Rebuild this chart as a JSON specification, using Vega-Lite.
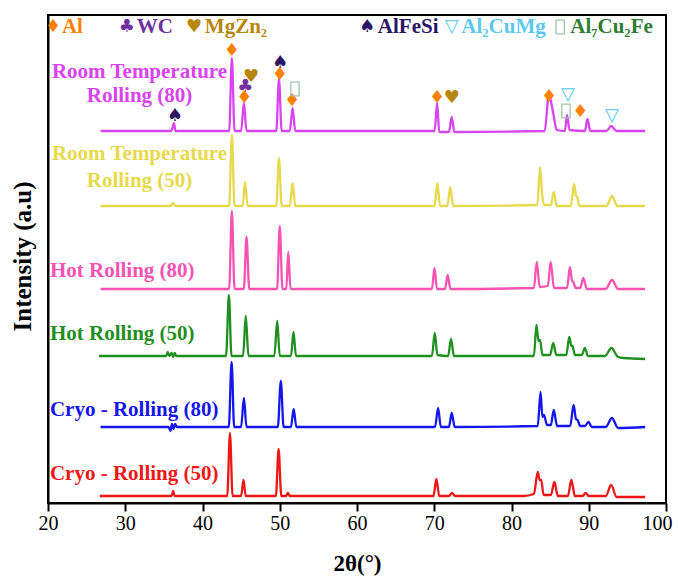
{
  "$schema": "https://vega.github.io/schema/vega-lite/v6.json",
  "width": 618,
  "height": 488,
  "autosize": {"type": "none"},
  "padding": {"left": 48, "top": 15, "right": 12, "bottom": 78},
  "background": "white",
  "config": {"view": {"stroke": "black", "strokeWidth": 2}},
  "datasets": {
    "xrd": [
      {"s":"CR50","x":26.7,"y":7},{"s":"CR50","x":35.8,"y":7},{"s":"CR50","x":36.0,"y":7},{"s":"CR50","x":36.2,"y":12},{"s":"CR50","x":36.4,"y":7},{"s":"CR50","x":43.2,"y":7},{"s":"CR50","x":43.55,"y":70},{"s":"CR50","x":43.9,"y":7},{"s":"CR50","x":45.0,"y":7},{"s":"CR50","x":45.3,"y":23},{"s":"CR50","x":45.6,"y":7},{"s":"CR50","x":49.5,"y":7},{"s":"CR50","x":49.85,"y":54},{"s":"CR50","x":50.2,"y":7},{"s":"CR50","x":50.8,"y":7},{"s":"CR50","x":51.05,"y":10},{"s":"CR50","x":51.3,"y":7},{"s":"CR50","x":69.9,"y":7},{"s":"CR50","x":70.28,"y":24},{"s":"CR50","x":70.65,"y":7},{"s":"CR50","x":71.9,"y":7},{"s":"CR50","x":72.3,"y":10},{"s":"CR50","x":72.7,"y":7},{"s":"CR50","x":81.5,"y":7},{"s":"CR50","x":82.9,"y":9},{"s":"CR50","x":83.4,"y":31},{"s":"CR50","x":83.65,"y":23},{"s":"CR50","x":83.85,"y":23},{"s":"CR50","x":84.15,"y":8},{"s":"CR50","x":85.1,"y":8},{"s":"CR50","x":85.55,"y":21},{"s":"CR50","x":86.0,"y":7},{"s":"CR50","x":87.3,"y":7},{"s":"CR50","x":87.75,"y":23},{"s":"CR50","x":88.2,"y":7},{"s":"CR50","x":89.2,"y":7},{"s":"CR50","x":89.6,"y":10},{"s":"CR50","x":90.0,"y":7},{"s":"CR50","x":92.2,"y":7},{"s":"CR50","x":92.9,"y":18},{"s":"CR50","x":93.6,"y":6},{"s":"CR50","x":97.3,"y":6},

      {"s":"CR80","x":26.8,"y":76},{"s":"CR80","x":35.6,"y":76},{"s":"CR80","x":35.85,"y":72},{"s":"CR80","x":36.05,"y":79},{"s":"CR80","x":36.25,"y":74},{"s":"CR80","x":36.45,"y":79},{"s":"CR80","x":36.7,"y":76},{"s":"CR80","x":43.4,"y":76},{"s":"CR80","x":43.77,"y":141},{"s":"CR80","x":44.1,"y":76},{"s":"CR80","x":45.0,"y":76},{"s":"CR80","x":45.36,"y":105},{"s":"CR80","x":45.7,"y":76},{"s":"CR80","x":49.75,"y":76},{"s":"CR80","x":50.14,"y":122},{"s":"CR80","x":50.5,"y":76},{"s":"CR80","x":51.45,"y":76},{"s":"CR80","x":51.8,"y":94},{"s":"CR80","x":52.15,"y":76},{"s":"CR80","x":70.1,"y":76},{"s":"CR80","x":70.5,"y":95},{"s":"CR80","x":70.85,"y":76},{"s":"CR80","x":71.9,"y":76},{"s":"CR80","x":72.26,"y":90},{"s":"CR80","x":72.65,"y":76},{"s":"CR80","x":83.4,"y":77},{"s":"CR80","x":83.76,"y":111},{"s":"CR80","x":84.0,"y":86},{"s":"CR80","x":84.2,"y":88},{"s":"CR80","x":84.6,"y":78},{"s":"CR80","x":85.1,"y":78},{"s":"CR80","x":85.47,"y":93},{"s":"CR80","x":85.9,"y":77},{"s":"CR80","x":87.6,"y":77},{"s":"CR80","x":88.04,"y":98},{"s":"CR80","x":88.35,"y":84},{"s":"CR80","x":88.55,"y":83},{"s":"CR80","x":88.9,"y":77},{"s":"CR80","x":89.5,"y":77},{"s":"CR80","x":89.96,"y":81},{"s":"CR80","x":90.4,"y":76},{"s":"CR80","x":92.2,"y":76},{"s":"CR80","x":93.0,"y":85},{"s":"CR80","x":93.8,"y":75},{"s":"CR80","x":97.3,"y":76},

      {"s":"HR50","x":26.6,"y":147},{"s":"HR50","x":35.3,"y":147},{"s":"HR50","x":35.5,"y":151},{"s":"HR50","x":35.7,"y":147},{"s":"HR50","x":36.0,"y":150},{"s":"HR50","x":36.2,"y":146},{"s":"HR50","x":36.4,"y":150},{"s":"HR50","x":36.6,"y":147},{"s":"HR50","x":43.05,"y":147},{"s":"HR50","x":43.42,"y":208},{"s":"HR50","x":43.75,"y":147},{"s":"HR50","x":45.25,"y":147},{"s":"HR50","x":45.6,"y":187},{"s":"HR50","x":45.95,"y":147},{"s":"HR50","x":49.3,"y":147},{"s":"HR50","x":49.67,"y":182},{"s":"HR50","x":50.0,"y":147},{"s":"HR50","x":51.45,"y":147},{"s":"HR50","x":51.78,"y":171},{"s":"HR50","x":52.1,"y":147},{"s":"HR50","x":69.7,"y":147},{"s":"HR50","x":70.07,"y":170},{"s":"HR50","x":70.4,"y":148},{"s":"HR50","x":71.8,"y":147},{"s":"HR50","x":72.17,"y":164},{"s":"HR50","x":72.55,"y":147},{"s":"HR50","x":82.9,"y":147},{"s":"HR50","x":83.23,"y":178},{"s":"HR50","x":83.5,"y":162},{"s":"HR50","x":83.7,"y":163},{"s":"HR50","x":84.0,"y":148},{"s":"HR50","x":85.0,"y":148},{"s":"HR50","x":85.4,"y":160},{"s":"HR50","x":85.8,"y":148},{"s":"HR50","x":87.1,"y":148},{"s":"HR50","x":87.47,"y":166},{"s":"HR50","x":87.75,"y":157},{"s":"HR50","x":87.9,"y":157},{"s":"HR50","x":88.2,"y":148},{"s":"HR50","x":89.1,"y":148},{"s":"HR50","x":89.5,"y":155},{"s":"HR50","x":89.9,"y":147},{"s":"HR50","x":92.1,"y":147},{"s":"HR50","x":92.93,"y":155},{"s":"HR50","x":93.8,"y":146},{"s":"HR50","x":94.5,"y":145},{"s":"HR50","x":97.3,"y":144},

      {"s":"HR80","x":26.8,"y":214},{"s":"HR80","x":43.45,"y":214},{"s":"HR80","x":43.8,"y":292},{"s":"HR80","x":44.15,"y":214},{"s":"HR80","x":45.35,"y":214},{"s":"HR80","x":45.7,"y":266},{"s":"HR80","x":46.05,"y":214},{"s":"HR80","x":49.65,"y":214},{"s":"HR80","x":50.0,"y":277},{"s":"HR80","x":50.35,"y":214},{"s":"HR80","x":50.85,"y":214},{"s":"HR80","x":51.1,"y":251},{"s":"HR80","x":51.4,"y":214},{"s":"HR80","x":69.7,"y":214},{"s":"HR80","x":70.03,"y":235},{"s":"HR80","x":70.35,"y":214},{"s":"HR80","x":71.4,"y":214},{"s":"HR80","x":71.73,"y":228},{"s":"HR80","x":72.1,"y":214},{"s":"HR80","x":82.9,"y":215},{"s":"HR80","x":83.27,"y":241},{"s":"HR80","x":83.65,"y":216},{"s":"HR80","x":84.7,"y":217},{"s":"HR80","x":85.07,"y":241},{"s":"HR80","x":85.5,"y":215},{"s":"HR80","x":87.2,"y":215},{"s":"HR80","x":87.56,"y":236},{"s":"HR80","x":87.85,"y":222},{"s":"HR80","x":88.0,"y":221},{"s":"HR80","x":88.3,"y":215},{"s":"HR80","x":88.9,"y":215},{"s":"HR80","x":89.3,"y":225},{"s":"HR80","x":89.75,"y":214},{"s":"HR80","x":92.2,"y":214},{"s":"HR80","x":93.0,"y":223},{"s":"HR80","x":93.8,"y":214},{"s":"HR80","x":97.3,"y":214},

      {"s":"RT50","x":26.8,"y":297},{"s":"RT50","x":35.9,"y":297},{"s":"RT50","x":36.2,"y":300},{"s":"RT50","x":36.5,"y":297},{"s":"RT50","x":43.45,"y":297},{"s":"RT50","x":43.8,"y":368},{"s":"RT50","x":44.15,"y":297},{"s":"RT50","x":45.2,"y":297},{"s":"RT50","x":45.5,"y":321},{"s":"RT50","x":45.85,"y":297},{"s":"RT50","x":49.55,"y":297},{"s":"RT50","x":49.9,"y":345},{"s":"RT50","x":50.25,"y":297},{"s":"RT50","x":51.3,"y":297},{"s":"RT50","x":51.66,"y":320},{"s":"RT50","x":52.0,"y":297},{"s":"RT50","x":70.05,"y":297},{"s":"RT50","x":70.4,"y":320},{"s":"RT50","x":70.75,"y":297},{"s":"RT50","x":71.7,"y":297},{"s":"RT50","x":72.07,"y":316},{"s":"RT50","x":72.45,"y":297},{"s":"RT50","x":83.35,"y":298},{"s":"RT50","x":83.7,"y":336},{"s":"RT50","x":83.95,"y":310},{"s":"RT50","x":84.2,"y":298},{"s":"RT50","x":85.1,"y":298},{"s":"RT50","x":85.47,"y":311},{"s":"RT50","x":85.85,"y":297},{"s":"RT50","x":87.7,"y":297},{"s":"RT50","x":88.1,"y":319},{"s":"RT50","x":88.35,"y":307},{"s":"RT50","x":88.5,"y":306},{"s":"RT50","x":88.8,"y":297},{"s":"RT50","x":92.3,"y":297},{"s":"RT50","x":93.0,"y":307},{"s":"RT50","x":93.7,"y":297},{"s":"RT50","x":97.3,"y":297},

      {"s":"RT80","x":26.8,"y":372},{"s":"RT80","x":35.9,"y":372},{"s":"RT80","x":36.15,"y":376},{"s":"RT80","x":36.3,"y":380},{"s":"RT80","x":36.5,"y":372},{"s":"RT80","x":43.45,"y":372},{"s":"RT80","x":43.8,"y":445},{"s":"RT80","x":44.15,"y":372},{"s":"RT80","x":45.0,"y":372},{"s":"RT80","x":45.36,"y":400},{"s":"RT80","x":45.7,"y":372},{"s":"RT80","x":49.55,"y":372},{"s":"RT80","x":49.9,"y":424},{"s":"RT80","x":50.25,"y":372},{"s":"RT80","x":51.3,"y":372},{"s":"RT80","x":51.66,"y":395},{"s":"RT80","x":52.0,"y":372},{"s":"RT80","x":70.05,"y":372},{"s":"RT80","x":70.37,"y":400},{"s":"RT80","x":70.65,"y":371},{"s":"RT80","x":71.9,"y":371},{"s":"RT80","x":72.26,"y":386},{"s":"RT80","x":72.6,"y":371},{"s":"RT80","x":84.3,"y":372},{"s":"RT80","x":84.85,"y":410},{"s":"RT80","x":85.2,"y":398},{"s":"RT80","x":85.45,"y":388},{"s":"RT80","x":85.85,"y":373},{"s":"RT80","x":86.9,"y":372},{"s":"RT80","x":87.2,"y":388},{"s":"RT80","x":87.5,"y":373},{"s":"RT80","x":89.5,"y":372},{"s":"RT80","x":89.83,"y":384},{"s":"RT80","x":90.2,"y":372},{"s":"RT80","x":92.3,"y":372},{"s":"RT80","x":92.9,"y":377},{"s":"RT80","x":93.6,"y":372},{"s":"RT80","x":97.3,"y":372}
    ],
    "labC": [
      {"s":"RT80","t":"Room Temperature","x":31.85,"y":431},
      {"s":"RT80","t":"Rolling (80)","x":31.85,"y":407},
      {"s":"RT50","t":"Room Temperature","x":31.85,"y":349},
      {"s":"RT50","t":"Rolling (50)","x":31.85,"y":322}
    ],
    "labL": [
      {"s":"HR80","t":"Hot Rolling (80)","x":20.25,"y":232},
      {"s":"HR50","t":"Hot Rolling (50)","x":20.25,"y":169},
      {"s":"CR80","t":"Cryo - Rolling (80)","x":20.25,"y":93},
      {"s":"CR50","t":"Cryo - Rolling (50)","x":20.25,"y":29}
    ],
    "marks": [
      {"p":"AlFeSi","sym":"♠","x":36.4,"y":387},
      {"p":"Al","sym":"♦","x":43.8,"y":452},
      {"p":"WC","sym":"♣","x":45.55,"y":416},
      {"p":"Al","sym":"♦","x":45.4,"y":405},
      {"p":"MgZn2","sym":"♥","x":46.3,"y":426},
      {"p":"AlFeSi","sym":"♠","x":50.05,"y":440},
      {"p":"Al","sym":"♦","x":50.0,"y":428},
      {"p":"Al7Cu2Fe","sym":"▯","x":51.97,"y":414},
      {"p":"Al","sym":"♦","x":51.6,"y":402},
      {"p":"Al","sym":"♦","x":70.37,"y":405},
      {"p":"MgZn2","sym":"♥","x":72.26,"y":405},
      {"p":"Al","sym":"♦","x":84.85,"y":406},
      {"p":"Al2CuMg","sym":"▽","x":87.3,"y":408},
      {"p":"Al7Cu2Fe","sym":"▯","x":87.05,"y":392},
      {"p":"Al","sym":"♦","x":88.9,"y":391},
      {"p":"Al2CuMg","sym":"▽","x":93.0,"y":387},
      {"p":"Al","sym":"♦","x":20.65,"y":476},
      {"p":"WC","sym":"♣","x":30.2,"y":476},
      {"p":"MgZn2","sym":"♥","x":38.9,"y":476},
      {"p":"AlFeSi","sym":"♠","x":61.3,"y":476},
      {"p":"Al2CuMg","sym":"▽","x":72.25,"y":476},
      {"p":"Al7Cu2Fe","sym":"▯","x":86.3,"y":476}
    ],
    "names": [
      {"p":"Al","t":"Al","x":21.8,"y":476},
      {"p":"WC","t":"WC","x":31.5,"y":476},
      {"p":"MgZn2","t":"MgZn₂","x":40.3,"y":476},
      {"p":"AlFeSi","t":"AlFeSi","x":62.7,"y":476},
      {"p":"Al2CuMg","t":"Al₂CuMg","x":73.5,"y":476},
      {"p":"Al7Cu2Fe","t":"Al₇Cu₂Fe","x":87.6,"y":476}
    ]
  },
  "resolve": {"scale": {"color": "independent"}},
  "layer": [
    {
      "data": {"name": "xrd"},
      "mark": {"type": "line", "interpolate": "monotone", "strokeWidth": 2.3},
      "encoding": {
        "x": {
          "field": "x", "type": "quantitative",
          "scale": {"domain": [20, 100], "nice": false, "zero": false},
          "axis": {
            "title": "2θ(°)",
            "values": [20,25,30,35,40,45,50,55,60,65,70,75,80,85,90,95,100],
            "labelExpr": "datum.value % 10 === 0 ? datum.label : ''",
            "format": "d",
            "labelOverlap": false,
            "labelFlush": false,
            "labelOffset": {"condition": {"test": "datum.value === 100", "value": -9}, "value": 0},
            "grid": false,
            "domainColor": "black", "domainWidth": 2,
            "tickColor": "black", "tickWidth": 2,
            "tickSize": {"condition": {"test": "datum.value % 10 === 0", "value": 8}, "value": 5},
            "labelFont": "Liberation Serif", "labelFontSize": 20, "labelColor": "black", "labelPadding": 2,
            "titleFont": "Liberation Serif", "titleFontSize": 23, "titleFontWeight": "bold", "titleColor": "black", "titlePadding": 19
          }
        },
        "y": {
          "field": "y", "type": "quantitative",
          "scale": {"domain": [0, 488], "nice": false, "zero": false},
          "axis": {
            "title": "Intensity (a.u)",
            "labels": false, "ticks": false, "grid": false,
            "domainColor": "black", "domainWidth": 2,
            "titleFont": "Liberation Serif", "titleFontSize": 25, "titleFontWeight": "bold", "titleColor": "black",
            "titleX": -26, "titleY": 241, "titleAngle": 270, "titleAlign": "center", "titleBaseline": "middle"
          }
        },
        "color": {
          "field": "s", "type": "nominal", "legend": null,
          "scale": {"domain": ["RT80","RT50","HR80","HR50","CR80","CR50"], "range": ["#d844f0","#e6da4c","#f652b4","#1f8f1f","#1515ee","#f01616"]}
        },
        "detail": {"field": "s"}
      }
    },
    {
      "data": {"name": "labC"},
      "mark": {"type": "text", "font": "Liberation Serif", "fontSize": 21, "fontWeight": "bold", "align": "center", "baseline": "middle"},
      "encoding": {
        "x": {"field": "x", "type": "quantitative"},
        "y": {"field": "y", "type": "quantitative"},
        "text": {"field": "t"},
        "color": {"field": "s", "type": "nominal", "legend": null,
          "scale": {"domain": ["RT80","RT50","HR80","HR50","CR80","CR50"], "range": ["#d844f0","#e6da4c","#f652b4","#1f8f1f","#1515ee","#f01616"]}}
      }
    },
    {
      "data": {"name": "labL"},
      "mark": {"type": "text", "font": "Liberation Serif", "fontSize": 21, "fontWeight": "bold", "align": "left", "baseline": "middle"},
      "encoding": {
        "x": {"field": "x", "type": "quantitative"},
        "y": {"field": "y", "type": "quantitative"},
        "text": {"field": "t"},
        "color": {"field": "s", "type": "nominal", "legend": null,
          "scale": {"domain": ["RT80","RT50","HR80","HR50","CR80","CR50"], "range": ["#d844f0","#e6da4c","#f652b4","#1f8f1f","#1515ee","#f01616"]}}
      }
    },
    {
      "data": {"name": "marks"},
      "transform": [{"filter": "datum.p !== 'Al7Cu2Fe'"}],
      "mark": {"type": "text", "font": "DejaVu Sans", "fontSize": 18, "align": "center", "baseline": "middle"},
      "encoding": {
        "x": {"field": "x", "type": "quantitative"},
        "y": {"field": "y", "type": "quantitative"},
        "text": {"field": "sym"},
        "color": {"field": "p", "type": "nominal", "legend": null,
          "scale": {"domain": ["Al","WC","MgZn2","AlFeSi","Al2CuMg","Al7Cu2Fe"], "range": ["#ff8000","#7030a0","#b8860b","#2a1464","#4fc8f2","#a9c6ae"]}}
      }
    },
    {
      "data": {"name": "marks"},
      "transform": [{"filter": "datum.p === 'Al7Cu2Fe'"}],
      "mark": {"type": "point", "shape": "M-0.6,-1H0.6V1H-0.6Z", "size": 190, "filled": false, "strokeWidth": 1.3, "opacity": 1, "color": "#a3c4aa"},
      "encoding": {
        "x": {"field": "x", "type": "quantitative"},
        "y": {"field": "y", "type": "quantitative"}
      }
    },
    {
      "data": {"name": "names"},
      "mark": {"type": "text", "font": "Liberation Serif", "fontSize": 21, "fontWeight": "bold", "align": "left", "baseline": "middle"},
      "encoding": {
        "x": {"field": "x", "type": "quantitative"},
        "y": {"field": "y", "type": "quantitative"},
        "text": {"field": "t"},
        "color": {"field": "p", "type": "nominal", "legend": null,
          "scale": {"domain": ["Al","WC","MgZn2","AlFeSi","Al2CuMg","Al7Cu2Fe"], "range": ["#ff8000","#7030a0","#b8860b","#2a1464","#5bc8f0","#2e7d32"]}}
      }
    }
  ]
}
